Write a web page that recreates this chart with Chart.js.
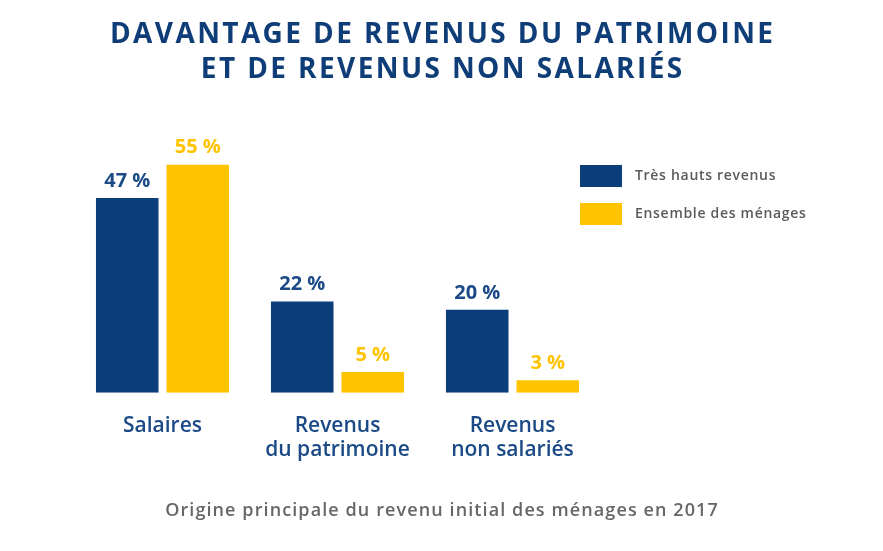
<!DOCTYPE html>
<html>
<head>
<meta charset="utf-8">
<script src="https://cdn.jsdelivr.net/npm/chart.js@4/dist/chart.umd.min.js"></script>
<style>
    html, body { margin: 0; padding: 0; background: #fff; }
    #wrap { width: 883px; height: 551px; }
</style>
</head>
<body>
<div id="wrap"><canvas id="myChart" width="883" height="551"></canvas></div>
<script>
// data
const categories = [['Salaires'], ['Revenus', 'du patrimoine'], ['Revenus', 'non salariés']];
const seriesNames = ['Très hauts revenus', 'Ensemble des ménages'];
const tresHautsRevenus = [47, 22, 20];
const ensembleMenages = [55, 5, 3];
const titleLines = ['DAVANTAGE DE REVENUS DU PATRIMOINE', 'ET DE REVENUS NON SALARIÉS'];
const footerText = 'Origine principale du revenu initial des ménages en 2017';

const BLUE = '#0b3d7b';
const YELLOW = '#ffc300';
const FONT = "'Open Sans', sans-serif";

// value labels above bars
const valueLabels = {
    id: 'valueLabels',
    afterDatasetsDraw(chart) {
        const ctx = chart.ctx;
        ctx.save();
        ctx.font = "bold 20px " + FONT;
        ctx.textAlign = 'center';
        ctx.textBaseline = 'middle';
        chart.data.datasets.forEach((ds, i) => {
            const meta = chart.getDatasetMeta(i);
            ctx.fillStyle = ds.labelColor;
            meta.data.forEach((bar, j) => {
                ctx.fillText(ds.data[j] + ' %', bar.x, bar.y - 17);
            });
        });
        ctx.restore();
    }
};

// legend on the right, boxes + text
const sideLegend = {
    id: 'sideLegend',
    afterDraw(chart) {
        const ctx = chart.ctx;
        ctx.save();
        ctx.font = "600 14px " + FONT;
        ctx.letterSpacing = '0.7px';
        ctx.textBaseline = 'middle';
        chart.data.datasets.forEach((ds, i) => {
            const y = 165 + i * 38;
            ctx.fillStyle = ds.backgroundColor;
            ctx.fillRect(580, y, 42, 22);
            ctx.fillStyle = '#5a5a5a';
            ctx.fillText(ds.label, 635, y + 11);
        });
        ctx.restore();
    }
};

// title on top and caption at the bottom, centred on the page
const headings = {
    id: 'headings',
    afterDraw(chart) {
        const ctx = chart.ctx;
        const cx = chart.width / 2;
        ctx.save();
        ctx.textAlign = 'center';
        ctx.textBaseline = 'middle';
        ctx.font = "bold 28px " + FONT;
        ctx.letterSpacing = '2.4px';
        ctx.fillStyle = '#0e3d78';
        titleLines.forEach((line, i) => ctx.fillText(line, cx + 1.2, 35 + i * 35));
        ctx.font = "600 18px " + FONT;
        ctx.letterSpacing = '1.1px';
        ctx.fillStyle = '#666666';
        ctx.fillText(footerText, cx + 0.5, 511);
        ctx.restore();
    }
};

const ctx = document.getElementById('myChart').getContext('2d');
new Chart(ctx, {
    type: 'bar',
    data: {
        labels: categories,
        datasets: [{
            label: seriesNames[0],
            data: tresHautsRevenus,
            backgroundColor: BLUE,
            labelColor: '#1b4a86'
        }, {
            label: seriesNames[1],
            data: ensembleMenages,
            backgroundColor: YELLOW,
            labelColor: YELLOW
        }]
    },
    options: {
        responsive: false,
        animation: false,
        layout: { padding: { left: 0, right: 0, top: 144, bottom: 76 } },
        categoryPercentage: 0.806,
        barPercentage: 0.887,
        scales: {
            x: {
                grid: { display: false },
                border: { display: false },
                ticks: {
                    color: '#1b4a86',
                    font: { family: FONT, size: 21, weight: 600, lineHeight: 1.15 },
                    padding: 13,
                    maxRotation: 0
                }
            },
            y: {
                min: 0,
                max: 60,
                grid: { display: false },
                border: { display: false },
                ticks: { display: false },
                afterFit(scale) { scale.width = 75; }
            },
            yRight: {
                position: 'right',
                grid: { display: false },
                border: { display: false },
                ticks: { display: false },
                afterFit(scale) { scale.width = 283; }
            }
        },
        plugins: {
            legend: { display: false },
            tooltip: { enabled: false }
        }
    },
    plugins: [valueLabels, sideLegend, headings]
});
</script>
</body>
</html>
